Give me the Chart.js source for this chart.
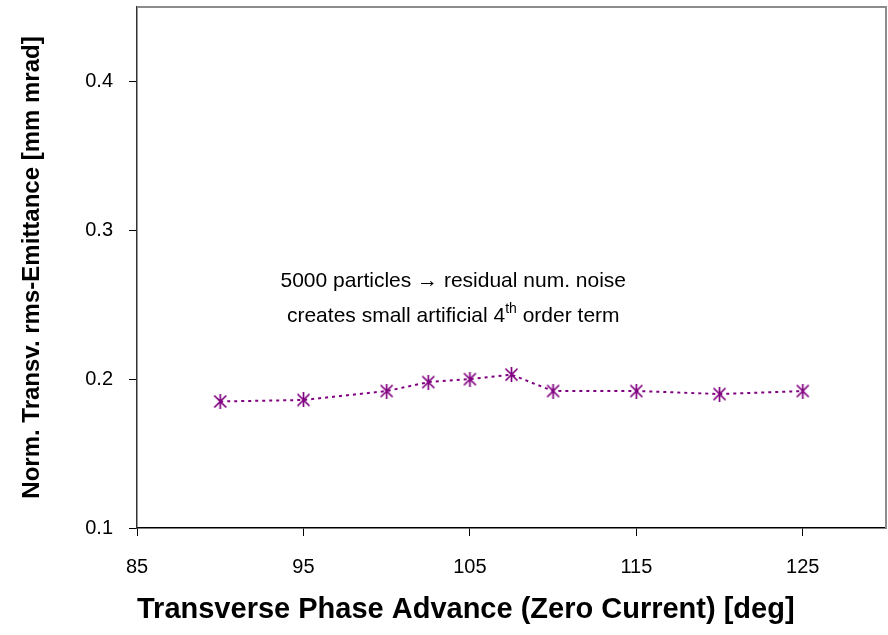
<!DOCTYPE html>
<html>
<head>
<meta charset="utf-8">
<script src="https://cdn.jsdelivr.net/npm/chart.js@4"></script>
<style>
  html, body { margin: 0; padding: 0; background: #ffffff; }
  #wrap { width: 888px; height: 635px; position: relative; }
</style>
</head>
<body>
<div id="wrap"><canvas id="c" width="888" height="635"></canvas></div>
<script>
// ---- data ----
const phaseAdvance = [90, 95, 100, 102.5, 105, 107.5, 110, 115, 120, 125];
const emittance = [0.185, 0.186, 0.192, 0.198, 0.200, 0.203, 0.192, 0.192, 0.190, 0.192];
const xTicks = [85, 95, 105, 115, 125];
const yTicks = [0.1, 0.2, 0.3, 0.4];
const xTitle = 'Transverse Phase Advance (Zero Current) [deg]';
const yTitle = 'Norm. Transv. rms-Emittance [mm mrad]';
const noteLine1 = '5000 particles \u2192 residual num. noise';
const noteLine2a = 'creates small artificial 4';
const noteLine2sup = 'th';
const noteLine2b = ' order term';
const noteX = [104, 104];
const noteY = [0.266, 0.242];

const purple = '#800080';
const FONT = "'Liberation Sans', Arial, sans-serif";

// asterisk-like marker (X with vertical bar)
function makeMarker() {
  const s = 15;
  const cv = document.createElement('canvas');
  cv.width = s; cv.height = s;
  const g = cv.getContext('2d');
  g.strokeStyle = purple;
  g.lineWidth = 1.7;
  g.beginPath();
  g.moveTo(1.5, 1.5); g.lineTo(s - 1.5, s - 1.5);
  g.moveTo(s - 1.5, 1.5); g.lineTo(1.5, s - 1.5);
  g.moveTo(s / 2, 0); g.lineTo(s / 2, s);
  g.stroke();
  return cv;
}
const marker = makeMarker();

const framePlugin = {
  id: 'frame',
  beforeDatasetsDraw(chart) {
    const { ctx, chartArea: a } = chart;
    ctx.save();
    ctx.strokeStyle = '#8c8c8c';
    ctx.lineWidth = 2;
    ctx.beginPath();
    ctx.moveTo(a.left, a.top);
    ctx.lineTo(a.right, a.top);
    ctx.lineTo(a.right, a.bottom);
    ctx.stroke();
    ctx.restore();
  }
};

const notePlugin = {
  id: 'note',
  afterDatasetsDraw(chart) {
    const { ctx, scales } = chart;
    ctx.save();
    ctx.fillStyle = '#000000';
    ctx.textBaseline = 'middle';
    ctx.font = '21px ' + FONT;
    ctx.textAlign = 'center';
    const x1 = scales.x.getPixelForValue(noteX[0]);
    const y1 = scales.y.getPixelForValue(noteY[0]);
    ctx.fillText(noteLine1, x1, y1);
    const x2 = scales.x.getPixelForValue(noteX[1]);
    const y2 = scales.y.getPixelForValue(noteY[1]);
    ctx.textAlign = 'left';
    ctx.font = '21px ' + FONT;
    const wa = ctx.measureText(noteLine2a).width;
    const wb = ctx.measureText(noteLine2b).width;
    ctx.font = '14px ' + FONT;
    const ws = ctx.measureText(noteLine2sup).width;
    let x = x2 - (wa + ws + wb) / 2;
    ctx.font = '21px ' + FONT;
    ctx.fillText(noteLine2a, x, y2);
    x += wa;
    ctx.font = '14px ' + FONT;
    ctx.fillText(noteLine2sup, x, y2 - 7);
    x += ws;
    ctx.font = '21px ' + FONT;
    ctx.fillText(noteLine2b, x, y2);
    ctx.restore();
  }
};

new Chart(document.getElementById('c'), {
  type: 'scatter',
  data: {
    datasets: [{
      data: phaseAdvance.map((x, i) => ({ x: x, y: emittance[i] })),
      showLine: true,
      borderColor: purple,
      borderWidth: 2,
      borderDash: [3, 4],
      pointStyle: marker,
      pointRadius: 7,
      pointHoverRadius: 7,
      backgroundColor: purple,
      tension: 0
    }]
  },
  options: {
    responsive: false,
    animation: false,
    events: [],
    layout: { autoPadding: false, padding: { top: 7, right: 2, left: 0, bottom: 0 } },
    plugins: { legend: { display: false }, tooltip: { enabled: false }, title: { display: false } },
    scales: {
      x: {
        type: 'linear',
        min: 85, max: 130,
        afterBuildTicks(s) { s.ticks = xTicks.map(v => ({ value: v })); },
        afterFit(s) { s.height = 107; s.paddingLeft = 0; s.paddingRight = 0; },
        ticks: { color: '#000', font: { family: FONT, size: 20 }, padding: 19, maxRotation: 0, autoSkip: false,
          callback: v => String(v) },
        grid: { drawOnChartArea: false, drawTicks: true, tickLength: 8, tickColor: '#000', lineWidth: 1 },
        border: { display: true, color: '#000', width: 1.5 },
        title: { display: true, text: xTitle, color: '#000', align: 'start',
          font: { family: FONT, size: 29, weight: 'bold' },
          padding: { top: 0, bottom: 8 } }
      },
      y: {
        type: 'linear',
        min: 0.1, max: 0.45,
        afterBuildTicks(s) { s.ticks = yTicks.map(v => ({ value: v })); },
        afterFit(s) { s.width = 137; s.paddingTop = 0; s.paddingBottom = 0; },
        ticks: { color: '#000', font: { family: FONT, size: 20 }, padding: 16, autoSkip: false,
          callback: v => v.toFixed(1) },
        grid: { drawOnChartArea: false, drawTicks: true, tickLength: 8, tickColor: '#000', lineWidth: 1 },
        border: { display: true, color: '#333', width: 1.5 },
        title: { display: true, text: yTitle, color: '#000', font: { family: FONT, size: 24, weight: 'bold' },
          padding: { top: 18, bottom: 0 } }
      }
    }
  },
  plugins: [framePlugin, notePlugin]
});
</script>
</body>
</html>
